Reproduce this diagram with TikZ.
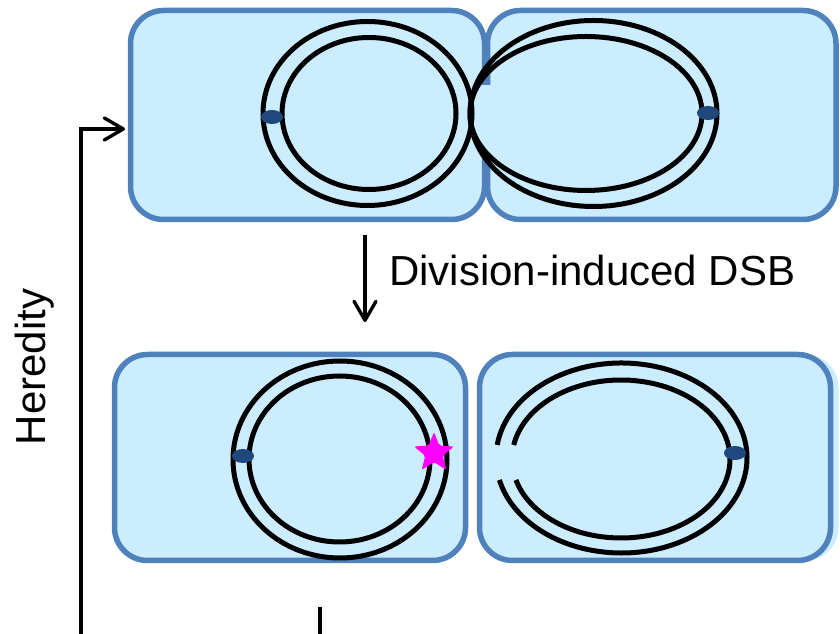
\documentclass[tikz,border=0pt]{standalone}
\usepackage{fontspec}
\setmainfont{Liberation Sans}
\usetikzlibrary{arrows.meta,shapes.geometric}

\definecolor{cellfill}{HTML}{CCECFF}
\definecolor{cellborder}{HTML}{4F81BD}
\definecolor{origin}{HTML}{1F497D}
\definecolor{lesion}{HTML}{FF00FF}

\tikzset{
  cell/.style={draw=cellborder, fill=cellfill, line width=5.5pt,
               rounded corners=33pt, inner sep=0pt, outer sep=0pt},
  dnaring/.style={draw=black, line width=5pt},
  oridot/.style={fill=origin},
  link/.style={draw=black, line width=3.4pt,
               -{Straight Barb[length=19pt,width=22pt,round]}},
  label/.style={inner sep=0pt, font=\fontsize{42}{50}\selectfont}
}

\begin{document}
\begin{tikzpicture}[x=1pt,y=1pt]
\useasboundingbox (0,0) rectangle (840,634);
\clip (0,0) rectangle (840,634);

% faint outline of a neighbouring cell behind the lower right one
\fill[cellfill, rounded corners=33pt] (487.5,73.5) rectangle (838.5,279.5);

% dividing cell (top) and its two daughters (bottom)
\node[cell, minimum width=354pt, minimum height=209pt] (c1) at (307.5,519) {};
\node[cell, minimum width=348.5pt, minimum height=209pt] (c2) at (661.75,519) {};
% open part of the forming septum
\fill[cellfill] (480.5,481) rectangle (491.5,549);
\node[cell, minimum width=351pt, minimum height=206pt] (c3) at (290,176.5) {};
\node[cell, minimum width=351pt, minimum height=206pt] (c4) at (655,176.5) {};

% chromosomes in the dividing cell
\draw[dnaring] (367.5,520.5) ellipse [x radius=104.5pt, y radius=92pt];
\draw[dnaring] (369,520.5) ellipse [x radius=87pt, y radius=76pt];
\draw[dnaring] (593.5,520.5) ellipse [x radius=123.5pt, y radius=93pt];
\draw[dnaring] (586,520.5) ellipse [x radius=116pt, y radius=77pt];
\fill[oridot] (272,517) ellipse [x radius=11pt, y radius=7pt];
\fill[oridot] (708,521) ellipse [x radius=11pt, y radius=7pt];

% daughter with a marked lesion
\draw[dnaring] (340,174.5) ellipse [x radius=107pt, y radius=98.5pt];
\draw[dnaring] (339.5,175) ellipse [x radius=90.5pt, y radius=83pt];
\fill[oridot] (243,178) ellipse [x radius=11pt, y radius=7pt];
\node[star, star points=5, star point ratio=2.3, minimum size=42pt,
      fill=lesion, rounded corners=2pt, inner sep=0pt] (dsb) at (434,181) {};

% daughter with a broken chromosome
\draw[dnaring] ([shift={(172.1:125.5pt and 95pt)}]621.5,176)
  arc[start angle=172.1, end angle=-166.6, x radius=125.5pt, y radius=95pt];
\draw[dnaring] ([shift={(169.8:109pt and 79pt)}]621,175)
  arc[start angle=169.8, end angle=-164.6, x radius=109pt, y radius=79pt];
\fill[oridot] (735,181) ellipse [x radius=11pt, y radius=7pt];

% division step
\coordinate (dsbtop) at (365,399);
\coordinate (dsbtip) at (365,312);
\draw[link] (dsbtop) -- (dsbtip);
\node[label, anchor=west] (dsblabel) at (389,364) {Division-induced DSB};

% inheritance loop back to the dividing cell
\coordinate (fbtick) at (320,27);
\coordinate (fbcorner) at (81,505);
\draw[link] (fbtick) -- (320,-2) -- (81,-2) -- (fbcorner)
  -- ([xshift=-5.5pt]c1.west |- fbcorner);
\node[label, rotate=90] (heredity) at (35,267) {Heredity};
\end{tikzpicture}
\end{document}
